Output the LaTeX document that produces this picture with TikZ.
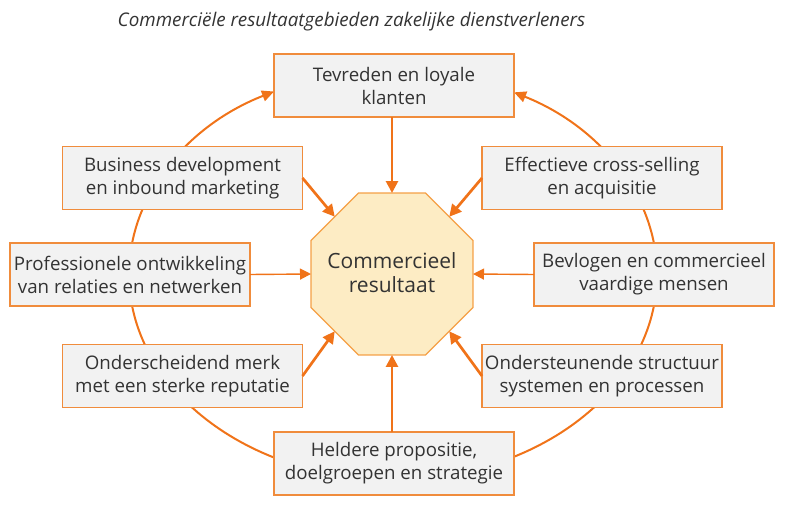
\documentclass[tikz,border=0pt]{standalone}
\usepackage{fontspec}
\setmainfont{Open Sans}
\usetikzlibrary{shapes.geometric,arrows.meta,calc}
\definecolor{boxline}{RGB}{240,140,60}
\definecolor{arrowc}{RGB}{240,115,25}
\definecolor{boxfill}{RGB}{242,242,242}
\definecolor{octfill}{RGB}{253,236,196}
\definecolor{octline}{RGB}{245,160,70}
\definecolor{txt}{RGB}{51,51,51}
\begin{document}
\begin{tikzpicture}[x=1pt,y=1pt,
  areabox/.style={draw=boxline, fill=boxfill, line width=1.3pt, minimum width=240pt, minimum height=63pt,
    inner sep=0pt, outer sep=0pt, align=center, text=txt, font=\fontsize{18.7}{23}\selectfont},
  octa/.style={regular polygon, regular polygon sides=8, minimum size=175.3pt, inner sep=0pt, outer sep=0pt,
    draw=octline, fill=octfill, line width=1.2pt},
  octtext/.style={align=center, text=txt, inner sep=0pt, font=\fontsize{21}{24}\selectfont},
  ringline/.style={draw=arrowc, line width=2pt, -{Triangle[length=12pt,width=11pt]}},
  thickarrow/.style={draw=arrowc, line width=2.7pt, -{Triangle[length=12pt,width=12pt]}},
  thinarrow/.style={draw=arrowc, line width=1.4pt, -{Triangle[length=11pt,width=11pt]}}
]
\useasboundingbox (0,0) rectangle (785,504);
\coordinate (ringC) at (393,229.5);
\coordinate (ringB) at (393,24.5);
% ring
\draw[ringline] (ringB) arc[start angle=270, end angle=116.8, x radius=264pt, y radius=205pt] coordinate (ringTL);
\draw[ringline] (ringB) arc[start angle=-90, end angle=62.7, x radius=264pt, y radius=205pt] coordinate (ringTR);
% title
\node[anchor=base, font=\itshape\fontsize{18.8}{22}\selectfont, text=txt] (title) at (351.5,477) {Commerciële resultaatgebieden zakelijke dienstverleners};
% nodes
\node[octa] (oct) at (392,230) {};
\node[octtext] (octlabel) at (392,231) {Commercieel\\resultaat};
\node[areabox] (top) at (394,418.5) {Tevreden en loyale\\klanten};
\node[areabox] (biz) at (182.5,326) {Business development\\en inbound marketing};
\node[areabox] (prof) at (130,229.5) {Professionele ontwikkeling\\van relaties en netwerken};
\node[areabox] (eff) at (602,326) {Effectieve cross-selling\\en acquisitie};
\node[areabox] (bev) at (654,229.5) {Bevlogen en commercieel\\vaardige mensen};
\node[areabox] (onds) at (602,128) {Ondersteunende structuur\\systemen en processen};
\node[areabox] (ondm) at (182.5,128) {Onderscheidend merk\\met een sterke reputatie};
\node[areabox] (held) at (394,40.5) {Heldere propositie,\\doelgroepen en strategie};
% arrows
\draw[thickarrow] (top.south -| oct.north) -- (oct.north);
\draw[thickarrow] (held.north -| oct.south) -- (oct.south);
\draw[thickarrow] (biz.east) -- (oct.135);
\draw[thickarrow] (eff.west) -- (oct.45);
\draw[thickarrow] (ondm.east) -- (oct.225);
\draw[thickarrow] (onds.west) -- (oct.315);
\draw[thinarrow] (prof.east) -- (oct.west);
\draw[thinarrow] (bev.west) -- (oct.east);
\end{tikzpicture}
\end{document}
